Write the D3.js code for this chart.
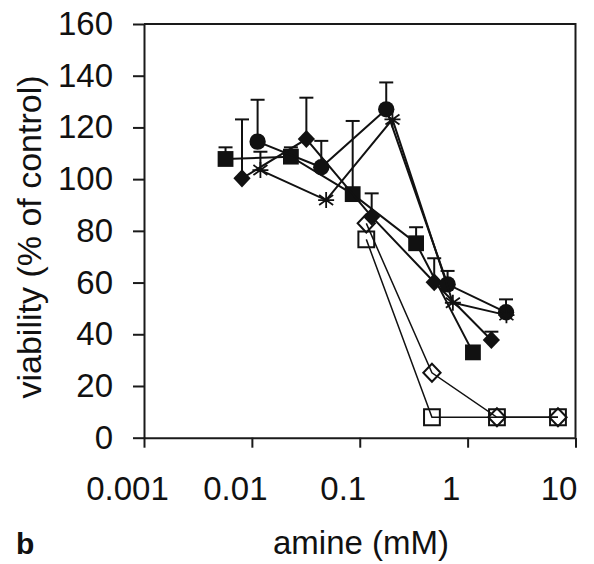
<!DOCTYPE html>
<html>
<head>
<meta charset="utf-8">
<script src="https://cdn.jsdelivr.net/npm/d3@7"></script>
<style>
  body { margin: 0; background: #fff; }
  svg text { font-family: "Liberation Sans", Arial, sans-serif; fill: #111; }
</style>
</head>
<body>
<div id="chart"></div>
<script>
// Data (amine in mM, viability in % of control)
var xTicks = [0.001, 0.01, 0.1, 1, 10];
var xTickLabels = ["0.001", "0.01", "0.1", "1", "10"];
var yTicks = [0, 20, 40, 60, 80, 100, 120, 140, 160];

var squareX = [0.0057, 0.023, 0.086, 0.333, 1.12];
var squareY = [107.8, 108.7, 94.2, 75.2, 33];
var squareErr = [4.5, 3.6, 28.3, 6.2, 0.6];

var diamondX = [0.0081, 0.032, 0.129, 0.49, 1.66];
var diamondY = [100.3, 115.5, 85.5, 60.1, 37.8];
var diamondErr = [22.8, 16, 9, 9.3, 3.2];

var circleX = [0.0113, 0.044, 0.176, 0.652, 2.27];
var circleY = [114.5, 104.6, 127, 59.3, 48.5];
var circleErr = [16.2, 10.2, 10.4, 5.2, 5];

var starX = [0.012, 0.0488, 0.201, 0.73, 2.29];
var starY = [103.5, 91.9, 123.1, 52.2, 47.4];
var starErr = [7.1, 0, 0, 0, 0];

var openX = [0.115, 0.467, 1.87, 6.88];
var openDiamondY = [82.9, 25.1, 7.9, 7.9];
var openSquareY = [76.7, 7.9, 7.9, 7.9];

// chart area
var margin = {top: 24, right: 18.5, bottom: 126.3, left: 144},
    width = 594 - margin.left - margin.right,
    height = 564 - margin.top - margin.bottom;

var svg = d3.select("#chart")
    .append("svg")
        .attr("width", 594)
        .attr("height", 564);

var g = svg.append("g")
    .attr("transform", "translate(" + margin.left + "," + margin.top + ")");

var xScale = d3.scaleLog()
    .domain([0.001, 10])
    .range([0, width]);

var yScale = d3.scaleLinear()
    .domain([0, 160])
    .range([height, 0]);

// frame (top and right)
g.append("path")
    .attr("d", "M0,0H" + width + "V" + height)
    .attr("fill", "none")
    .attr("stroke", "#1a1a1a")
    .attr("stroke-width", 2);

// axes
var yAxis = g.append("g")
    .call(d3.axisLeft(yScale).tickValues(yTicks).tickSize(11).tickPadding(20).tickSizeOuter(0));

var xAxis = g.append("g")
    .attr("transform", "translate(0," + height + ")")
    .call(d3.axisBottom(xScale).tickValues(xTicks)
        .tickFormat(function(d, i) { return xTickLabels[i]; })
        .tickSize(10).tickPadding(29).tickSizeOuter(0));

[yAxis, xAxis].forEach(function(ax) {
    ax.selectAll("path, line").attr("stroke", "#1a1a1a").attr("stroke-width", 2);
    ax.selectAll("text").attr("font-size", "33px").attr("fill", "#111")
        .attr("font-family", "Liberation Sans, Arial, sans-serif");
});
// labels in the figure sit a little left of their ticks
xAxis.selectAll("text").attr("dx", "-17");

// axis titles
svg.append("text")
    .attr("transform", "translate(41," + 237 + ") rotate(-90)")
    .attr("text-anchor", "middle")
    .attr("font-size", "34px")
    .text("viability (% of control)");

svg.append("text")
    .attr("x", 361)
    .attr("y", 554)
    .attr("text-anchor", "middle")
    .attr("font-size", "33px")
    .text("amine (mM)");

svg.append("text")
    .attr("x", 16)
    .attr("y", 554)
    .attr("font-size", "30px")
    .attr("font-weight", "bold")
    .text("b");

function zip(xs, ys, es) {
    return xs.map(function(x, i) { return {x: x, y: ys[i], e: es ? es[i] : 0}; });
}

var series = [
    {data: zip(openX, openSquareY), marker: "square", open: true, lw: 1.5},
    {data: zip(openX, openDiamondY), marker: "diamond", open: true, lw: 1.5},
    {data: zip(squareX, squareY, squareErr), marker: "square", lw: 2},
    {data: zip(diamondX, diamondY, diamondErr), marker: "diamond", lw: 2},
    {data: zip(circleX, circleY, circleErr), marker: "circle", lw: 2},
    {data: zip(starX, starY, starErr), marker: "star", lw: 2}
];

var line = d3.line()
    .x(function(d) { return xScale(d.x); })
    .y(function(d) { return yScale(d.y); });

var symbols = {
    square: d3.symbol().type(d3.symbolSquare).size(250),
    diamond: d3.symbol().type(d3.symbolDiamond2).size(190),
    circle: d3.symbol().type(d3.symbolCircle).size(210)
};

series.forEach(function(s) {
    var sg = g.append("g");

    // upward error bars
    var bars = sg.selectAll(".err")
        .data(s.data.filter(function(d) { return d.e > 0; }))
        .enter().append("g")
        .attr("stroke", "#111")
        .attr("stroke-width", 2);
    bars.append("line")
        .attr("x1", function(d) { return xScale(d.x); })
        .attr("x2", function(d) { return xScale(d.x); })
        .attr("y1", function(d) { return yScale(d.y); })
        .attr("y2", function(d) { return yScale(d.y + d.e); });
    bars.append("line")
        .attr("x1", function(d) { return xScale(d.x) - 7; })
        .attr("x2", function(d) { return xScale(d.x) + 7; })
        .attr("y1", function(d) { return yScale(d.y + d.e); })
        .attr("y2", function(d) { return yScale(d.y + d.e); });

    sg.append("path")
        .datum(s.data)
        .attr("d", line)
        .attr("fill", "none")
        .attr("stroke", "#111")
        .attr("stroke-width", s.lw);

    var pts = sg.selectAll(".pt")
        .data(s.data)
        .enter().append("g")
        .attr("transform", function(d) {
            return "translate(" + xScale(d.x) + "," + yScale(d.y) + ")";
        });

    if (s.marker == "star") {
        pts.append("path")
            .attr("d", "M0,-8V8M-7,-5L7,5M-7,5L7,-5M-8,0H8")
            .attr("stroke", "#111")
            .attr("stroke-width", 1.8)
            .attr("fill", "none");
    } else {
        var p = pts.append("path")
            .attr("d", symbols[s.marker]);
        if (s.marker == "diamond") p.attr("transform", "scale(1,1.05)");
        if (s.open) {
            p.attr("fill", "none").attr("stroke", "#111").attr("stroke-width", 2);
        } else {
            p.attr("fill", "#111");
        }
    }
});
</script>
</body>
</html>
